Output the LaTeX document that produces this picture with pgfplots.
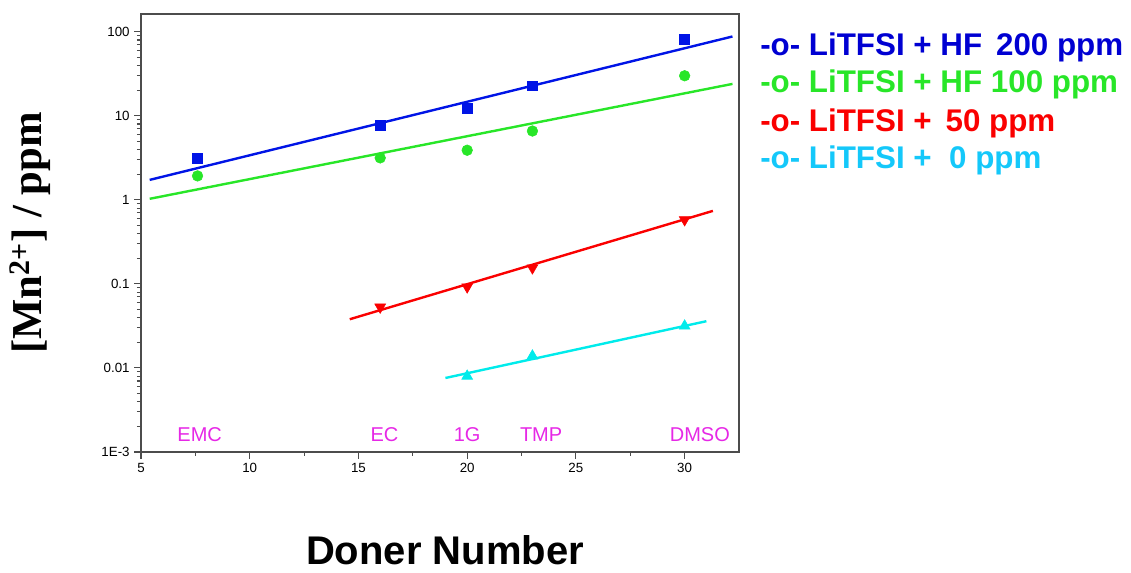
\documentclass[border=0pt]{standalone}
\usepackage{fontspec}
\setmainfont{Liberation Sans}
\newfontfamily\timesfont{Liberation Serif}
\usepackage{pgfplots}
\pgfplotsset{compat=1.18}

\definecolor{sblue}{RGB}{0,20,230}
\definecolor{sgreen}{RGB}{40,230,40}
\definecolor{sred}{RGB}{250,0,0}
\definecolor{scyan}{RGB}{0,235,235}
\definecolor{lblue}{RGB}{0,0,210}
\definecolor{lcyan}{RGB}{20,200,250}
\definecolor{smag}{RGB}{230,40,230}

\begin{document}
\begin{tikzpicture}
\begin{axis}[
  at={(0,0)}, anchor=south west, scale only axis,
  width=448.5pt, height=328.5pt,
  xmin=5, xmax=32.5, ymode=log, ymin=1e-3, ymax=163,
  xtick={5,10,...,30}, minor x tick num=1,
  ytick={1e-3,1e-2,1e-1,1,10,100},
  yticklabels={1E-3,0.01,0.1,1,10,100},
  tick align=outside, xtick pos=bottom, ytick pos=left,
  major tick length=5pt, minor tick length=3pt,
  tick style={black!70, line width=0.8pt},
  axis line style={black!70, line width=1pt},
  ticklabel style={font=\fontsize{10}{12}\selectfont},
  /pgf/number format/assume math mode=true,
  clip=false,
]
% exponential fits (straight lines on the log axis)
\addplot[sblue, line width=1.8pt] coordinates {(5.4,1.73) (32.2,88)};
\addplot[sgreen, line width=1.8pt] coordinates {(5.4,1.03) (32.2,24)};
\addplot[sred, line width=1.8pt] coordinates {(14.6,0.038) (31.3,0.74)};
\addplot[scyan, line width=1.8pt] coordinates {(19,0.0076) (31,0.036)};
% measured concentrations
\addplot[only marks, mark=square*, mark size=3.7pt, sblue] coordinates {
  (7.6,3.1) (16,7.8) (20,12.4) (23,22.8) (30,82)};
\addplot[only marks, mark=*, mark size=4pt, sgreen] coordinates {
  (7.6,1.93) (16,3.16) (20,3.9) (23,6.6) (30,30)};
\addplot[only marks, mark=triangle*, mark size=4.7pt, sred, mark options={rotate=180}] coordinates {
  (16,0.053) (20,0.092) (23,0.155) (30,0.58)};
\addplot[only marks, mark=triangle*, mark size=4.7pt, scyan] coordinates {
  (20,0.008) (23,0.0139) (30,0.0316)};
% solvent names
\node[text=smag, font=\fontsize{15}{18}\selectfont] at (axis cs:7.7,0.0016) {EMC};
\node[text=smag, font=\fontsize{15}{18}\selectfont] at (axis cs:16.2,0.0016) {EC};
\node[text=smag, font=\fontsize{15}{18}\selectfont] at (axis cs:20,0.0016) {1G};
\node[text=smag, font=\fontsize{15}{18}\selectfont] at (axis cs:23.4,0.0016) {TMP};
\node[text=smag, font=\fontsize{15}{18}\selectfont] at (axis cs:30.7,0.0016) {DMSO};
\end{axis}
% axis titles
\node[rotate=90, font=\timesfont\fontsize{32}{36}\selectfont\bfseries]
  at ({(30-141)*0.75pt},{(452-233)*0.75pt}) {[Mn\textsuperscript{2+}] / ppm};
\node[font=\fontsize{30}{34}\selectfont\bfseries, inner sep=0pt]
  at ({(445-141)*0.75pt},{(452-550)*0.75pt}) {Doner Number};
% legend
\begin{scope}[every node/.style={anchor=west, font=\fontsize{23.5}{27}\selectfont\bfseries, inner sep=0pt}]
\node[text=lblue]  at ({(760-141)*0.75pt},{(452-47)*0.75pt})  {-o- LiTFSI + HF\, 200 ppm};
\node[text=sgreen] at ({(760-141)*0.75pt},{(452-84)*0.75pt})  {-o- LiTFSI + HF 100 ppm};
\node[text=sred]   at ({(760-141)*0.75pt},{(452-123)*0.75pt}) {-o- LiTFSI +\, 50 ppm};
\node[text=lcyan]  at ({(760-141)*0.75pt},{(452-160)*0.75pt}) {-o- LiTFSI + \ 0 ppm};
\end{scope}
\pgfresetboundingbox
\path ({-141*0.75pt},{-121*0.75pt}) rectangle ++(848.25pt,429.75pt);
\end{tikzpicture}
\end{document}
